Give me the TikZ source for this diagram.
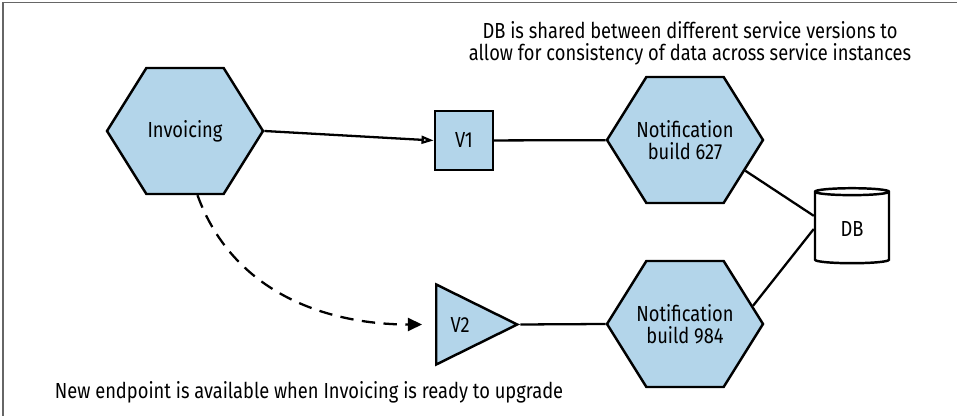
\documentclass[tikz,border=0pt]{standalone}
\usepackage{fontspec}
\setmainfont{Fira Sans}[FakeStretch=0.84]
\usetikzlibrary{shapes.geometric,shapes.symbols,arrows.meta}
\definecolor{svcblue}{HTML}{B3D5EA}
\begin{document}
\begin{tikzpicture}[font=\fontsize{12.4}{12.6}\selectfont,
  hex/.style={signal, signal to=east and west, signal pointer angle=116, draw,
    line width=1.4pt, fill=svcblue, minimum width=3.12cm, minimum height=2.52cm,
    inner xsep=-0.2cm, inner ysep=0pt, align=center},
  ep/.style={draw, line width=1.4pt, fill=svcblue},
  link/.style={line width=1.3pt}]
\useasboundingbox (0,0) rectangle (19.14,8.32);
\draw[black!60, line width=0.6pt] (0.06,0) -- (0.06,8.27) -- (19.14,8.27);
\node[hex] (inv) at (3.70,5.70) {Invoicing};
\node[ep, minimum width=1.16cm, minimum height=1.18cm] (v1) at (9.28,5.51) {V1};
\node[hex] (n627) at (13.70,5.52) {Notification\\build 627};
\node[ep, isosceles triangle, isosceles triangle stretches, minimum width=1.6cm,
  minimum height=1.62cm, inner sep=0pt, anchor=west] (v2) at (8.70,1.83) {V2};
\node[hex] (n984) at (13.70,1.84) {Notification\\build 984};
\node[cylinder, shape border rotate=90, aspect=0.2, draw, line width=1.4pt,
  fill=white, minimum width=1.48cm, minimum height=1.5cm] (db) at (17.04,3.74) {DB};
\node[align=center] (note) at (13.80,7.46)
  {DB is shared between different service versions to\\allow for consistency of data across service instances};
\node (hint) at (6.18,0.48) {New endpoint is available when Invoicing is ready to upgrade};
\draw[link, -{Triangle[open, length=7pt, width=4.5pt]}] (inv.east) -- (v1.west);
\draw[link] (v1) -- (n627);
\draw[link] (v2.apex) -- (n984.west);
\draw[link] (n627.-27) -- (db.161);
\draw[link] (n984.15) -- (db.west);
\draw[link, dash pattern=on 7.6pt off 4.8pt, -{Triangle[length=8pt, width=7.4pt]},
  shorten >=0.26cm] (inv.-79) to[out=-70, in=180] (v2.west);
\end{tikzpicture}
\end{document}
